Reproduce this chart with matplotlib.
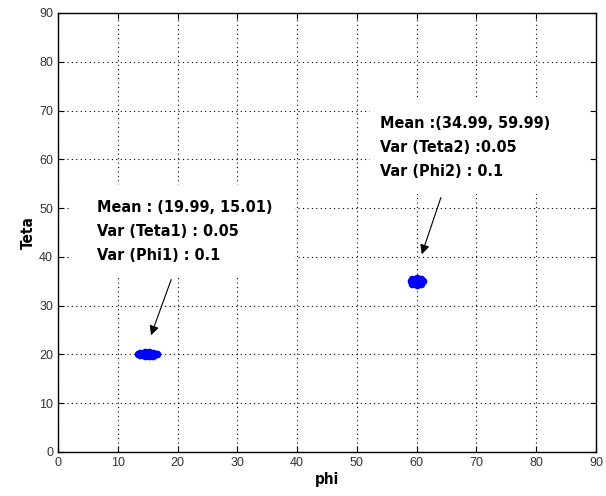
import matplotlib.pyplot as plt
from matplotlib.patches import Rectangle

# cluster points (phi, teta)
phi1 = [13.3, 13.8, 13.8, 14.5, 14.5, 15.2, 15.2, 15.9, 15.9, 16.6, 14.3, 15.0, 15.8, 13.6, 16.4]
teta1 = [20.0, 19.8, 20.2, 19.6, 20.4, 19.6, 20.4, 19.7, 20.3, 20.0, 20.0, 20.0, 20.0, 20.0, 20.0]
phi2 = [59.0, 59.3, 59.3, 60.0, 60.0, 60.7, 60.7, 61.0, 59.6, 60.4, 60.0]
teta2 = [35.0, 34.5, 35.5, 34.3, 35.7, 34.5, 35.5, 35.0, 35.0, 35.0, 35.0]

label1 = 'Mean : (19.99, 15.01)\nVar (Teta1) : 0.05\nVar (Phi1) : 0.1'
label2 = 'Mean :(34.99, 59.99)\nVar (Teta2) :0.05\nVar (Phi2) : 0.1'

ticks = list(range(0, 100, 10))

plt.rcParams['font.family'] = ['DejaVu Sans']

fig = plt.figure(figsize=(6.06, 4.96), dpi=100)
ax = fig.add_axes([58 / 606, 1 - 452 / 496, 538 / 606, 439 / 496])
ax.set_axisbelow(True)

ax.plot(phi1, teta1, '.', color='blue', markersize=9, zorder=2)
ax.plot(phi2, teta2, '.', color='blue', markersize=9, zorder=2)

ax.set_xlim(0, 90)
ax.set_ylim(0, 90)
ax.set_xticks(ticks)
ax.set_yticks(ticks)
ax.tick_params(direction='in', top=True, right=True, labelsize=9, labelcolor='#333333', length=4)
for lab in ax.get_xticklabels() + ax.get_yticklabels():
    lab.set_family('Liberation Sans')
ax.grid(True, linestyle=(0, (1, 3)), color='black', linewidth=0.8)
for s in ax.spines.values():
    s.set_linewidth(1.0)
    s.set_zorder(5)

ax.set_xlabel('phi', fontsize=11, fontweight='bold', labelpad=2, fontstretch='condensed')
ax.set_ylabel('Teta', fontsize=11, fontweight='bold', labelpad=2, fontstretch='condensed')

# white text areas hiding the grid (as in the MATLAB figure)
ax.add_patch(Rectangle((2.2, 36.3), 37.4, 18.4, facecolor='white', edgecolor='none', zorder=1.5))
ax.add_patch(Rectangle((52.2, 52.9), 36.8, 19.9, facecolor='white', edgecolor='none', zorder=1.5))

bold = dict(fontsize=11.6, fontweight='bold', fontstretch='condensed', va='center', ha='left',
            linespacing=1.75, zorder=3)
ax.text(6.5, 45.2, label1, **bold)
ax.annotate('', xy=(15.4, 23.4), xytext=(19.1, 35.9),
            arrowprops=dict(arrowstyle='-|>', color='black', lw=0.8, mutation_scale=14))

ax.text(53.8, 62.4, label2, **bold)
ax.annotate('', xy=(60.7, 40.0), xytext=(64.2, 52.7),
            arrowprops=dict(arrowstyle='-|>', color='black', lw=0.8, mutation_scale=14))

fig.savefig('out.png', dpi=100)
